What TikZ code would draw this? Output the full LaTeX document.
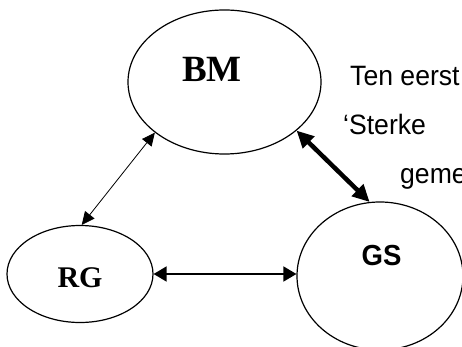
\documentclass[tikz,border=0pt]{standalone}
\usepackage{fontspec}
\setmainfont{Liberation Serif}
\newfontfamily\smallsans[FakeStretch=0.95]{Liberation Sans}
\usetikzlibrary{arrows.meta,shapes.geometric}
\tikzset{
    %Define standard arrow tip
    >={Triangle[length=13pt,width=12pt]},
    %Define style for the circles
    kring/.style={
           ellipse,
           draw=black, line width=1.2pt,
           inner sep=0pt},
    %Define style for the labels
    naam/.style={
           anchor=base,
           font=\bfseries},
    % Define arrow styles
    pijl/.style={
           <->,
           line width=0.8pt},
    pijldik/.style={
           <->,
           line width=1.8pt,
           >={Triangle[length=13pt,width=15pt]}},
    pijlzwaar/.style={
           <->,
           line width=4.5pt,
           >={Triangle[length=17pt,width=16pt]}},
    tekst/.style={
           anchor=base west,
           inner sep=0pt,
           font=\smallsans\fontsize{28}{28}\selectfont}
}
\begin{document}
\begin{tikzpicture}[x=1pt,y=-1pt]
\useasboundingbox (0,0) rectangle (462,347);
\clip (0,0) rectangle (462,347);

\node[kring, minimum width=193pt, minimum height=144pt] (bm) at (224.5,82) {};
\node[kring, minimum width=146pt, minimum height=97pt] (rg) at (80,274) {};
\node[kring, minimum width=166pt, minimum height=148pt] (gs) at (380,276) {};

\node[naam, font=\bfseries\fontsize{37}{37}\selectfont] (bmtxt) at (212,82) {BM};
\node[naam, font=\bfseries\fontsize{30}{30}\selectfont] (rgtxt) at (80,287) {RG};
\node[naam, font=\smallsans\bfseries\fontsize{29}{29}\selectfont] (gstxt) at (381.5,265) {GS};

\draw[pijl] (bm.216) -- (rg.88);
\draw[pijlzwaar] (bm.-34) -- (gs.98);
\draw[pijldik] (rg.east) -- (rg.east -| gs.west);

\node[tekst] (regel1) at (350,86) {Ten eerst};
\node[tekst] (regel2) at (343,135) {‘Sterke};
\node[tekst] (regel3) at (400,183) {geme};
\end{tikzpicture}
\end{document}
